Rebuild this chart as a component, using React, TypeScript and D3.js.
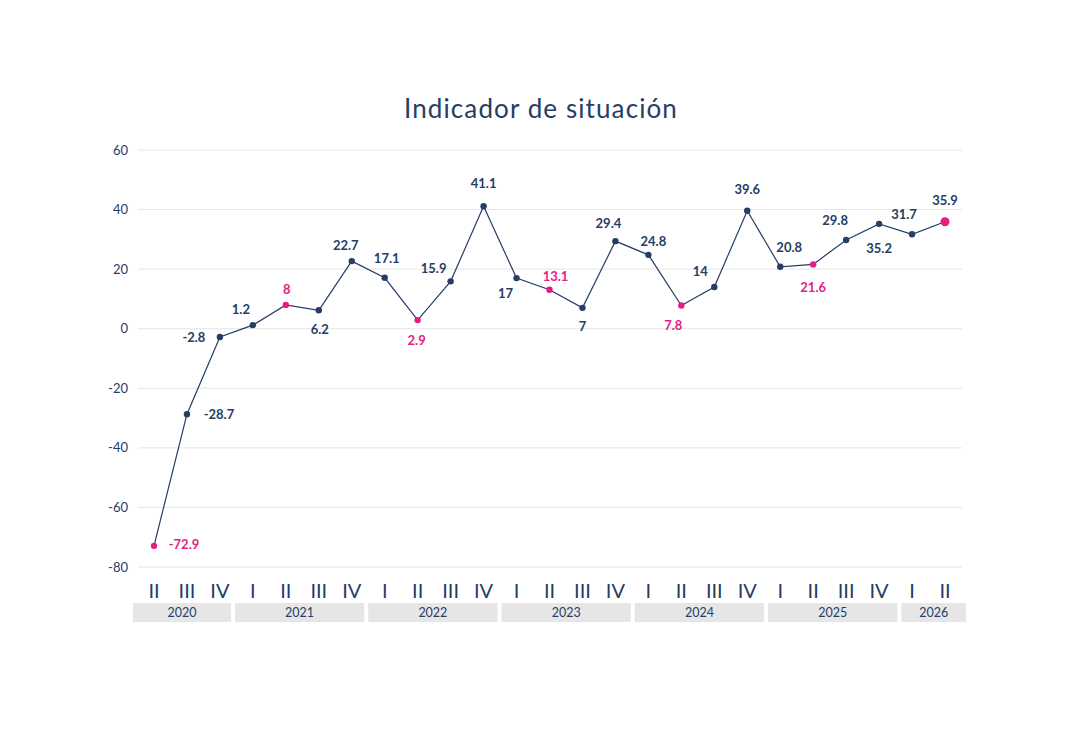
import React from "react";
import * as d3 from "d3";

const years = ["2020", "2021", "2022", "2023", "2024", "2025", "2026"];
const quarterLabels = [
  "II", "III", "IV",
  "I", "II", "III", "IV",
  "I", "II", "III", "IV",
  "I", "II", "III", "IV",
  "I", "II", "III", "IV",
  "I", "II", "III", "IV",
  "I", "II",
];
const quarterYears = [
  "2020", "2020", "2020",
  "2021", "2021", "2021", "2021",
  "2022", "2022", "2022", "2022",
  "2023", "2023", "2023", "2023",
  "2024", "2024", "2024", "2024",
  "2025", "2025", "2025", "2025",
  "2026", "2026",
];
const values = [
  -72.9, -28.7, -2.8,
  1.2, 8, 6.2, 22.7,
  17.1, 2.9, 15.9, 41.1,
  17, 13.1, 7, 29.4,
  24.8, 7.8, 14, 39.6,
  20.8, 21.6, 29.8, 35.2,
  31.7, 35.9,
];
const yTicks = [60, 40, 20, 0, -20, -40, -60, -80];

// label offsets relative to the point (dx, dy) – presentation only
const labelOffsets: [number, number][] = [
  [30, -1], [32, 0], [-26, 0],
  [-12, -16], [1, -15], [1, 19], [-6, -16],
  [2, -19], [-1, 20], [-17, -13], [0, -23],
  [-11, 15], [6, -13], [0, 19], [-7, -18],
  [5, -13], [-8, 20], [-14, -16], [0, -21],
  [9, -19], [0, 23], [-11, -20], [0, 25],
  [-8, -20], [0, -21],
];

const NAVY = "#263d66";
const PINK = "#e61c84";
const FONT = "Lato, 'DejaVu Sans', sans-serif";

export default function App() {
  const W = 1080;
  const H = 734;
  const y = d3.scaleLinear().domain([-80, 60]).range([567, 150]);
  const x = d3.scaleLinear().domain([0, values.length - 1]).range([154, 945]);
  const boxX = d3.scaleLinear().domain([0, values.length]).range([133, 966]);

  const line = d3
    .line<number>()
    .x((_, i) => x(i))
    .y((d) => y(d));

  const groups = years.map((yr) => {
    const idx = quarterYears.map((q, i) => (q === yr ? i : -1)).filter((i) => i >= 0);
    return { yr, start: idx[0], end: idx[idx.length - 1] + 1 };
  });

  const lastIdx = values.length - 1;

  return (
    <div style={{ position: "absolute", left: 0, top: 0 }}>
      <svg width={W} height={H} style={{ display: "block", background: "#fff" }}>
        <text
          x={541}
          y={118}
          textAnchor="middle"
          fontFamily={FONT}
          fontSize={26}
          letterSpacing={1.1}
          fill={NAVY}
        >
          Indicador de situación
        </text>

        {yTicks.map((t) => (
          <g key={t}>
            <line x1={138} x2={962} y1={y(t)} y2={y(t)} stroke="#e6e6e6" strokeWidth={1} />
            <text
              x={128}
              y={y(t)}
              dy="0.35em"
              textAnchor="end"
              fontFamily={FONT}
              fontSize={13}
              fill={NAVY}
            >
              {t}
            </text>
          </g>
        ))}

        <path d={line(values) || ""} fill="none" stroke={NAVY} strokeWidth={1.2} />

        {values.map((v, i) => {
          const isPink = quarterLabels[i] === "II";
          return (
            <circle
              key={"p" + i}
              cx={x(i)}
              cy={y(v)}
              r={i === lastIdx ? 4.5 : 3.2}
              fill={isPink ? PINK : NAVY}
            />
          );
        })}

        {values.map((v, i) => {
          const isPink = quarterLabels[i] === "II" && i !== lastIdx;
          const [dx, dy] = labelOffsets[i];
          return (
            <text
              key={"l" + i}
              x={x(i) + dx}
              y={y(v) + dy}
              dy="0.35em"
              textAnchor="middle"
              fontFamily={FONT}
              fontWeight={700}
              fontSize={13}
              fill={isPink ? PINK : NAVY}
            >
              {v}
            </text>
          );
        })}

        {quarterLabels.map((q, i) => (
          <text
            key={"q" + i}
            x={x(i)}
            y={591}
            dy="0.35em"
            textAnchor="middle"
            fontFamily={FONT}
            fontWeight={400}
            fontSize={20}
            fill={NAVY}
          >
            {q}
          </text>
        ))}

        {groups.map((g) => {
          const x0 = boxX(g.start) + (g.start === 0 ? 0 : 2);
          const x1 = boxX(g.end) - (g.end === values.length ? 0 : 2);
          return (
            <g key={g.yr}>
              <rect x={x0} y={603} width={x1 - x0} height={19} fill="#e6e6e6" />
              <text
                x={(x0 + x1) / 2}
                y={613}
                dy="0.35em"
                textAnchor="middle"
                fontFamily={FONT}
                fontSize={12.5}
                fill={NAVY}
              >
                {g.yr}
              </text>
            </g>
          );
        })}
      </svg>
    </div>
  );
}
